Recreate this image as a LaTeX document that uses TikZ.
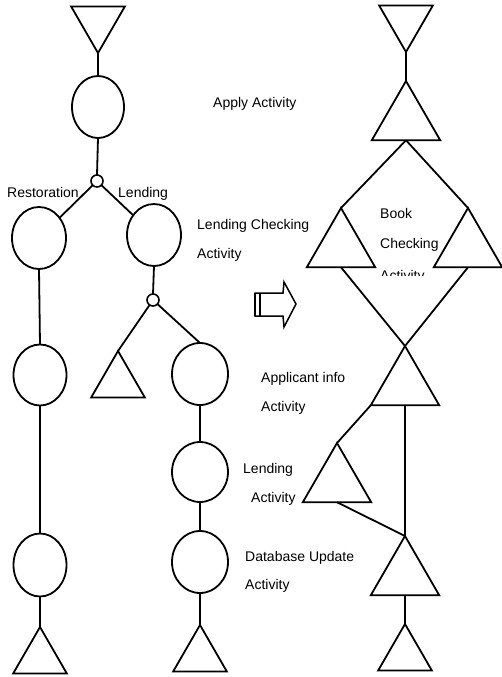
\documentclass[tikz,border=0pt]{standalone}
\usepackage{fontspec}
\setmainfont{Liberation Sans}
\usetikzlibrary{shapes.geometric}

\tikzset{
  link/.style={line width=1.8pt},
  oval/.style={draw, ellipse, line width=1.8pt, inner sep=0pt, outer sep=0pt,
               minimum width=54pt, minimum height=62pt},
  joint/.style={draw, circle, line width=1.6pt, inner sep=0pt, outer sep=0pt,
                minimum size=12pt},
  bigtri/.style={draw, regular polygon, regular polygon sides=3, line width=1.8pt,
                 inner sep=0pt, outer sep=0pt, minimum size=79pt},
  smalltri/.style={draw, regular polygon, regular polygon sides=3, line width=1.8pt,
                   inner sep=0pt, outer sep=0pt, minimum size=62pt},
  flipped/.style={shape border rotate=180},
  lbl/.style={anchor=base west, inner sep=0pt, font=\fontsize{14}{16}\selectfont}
}

\begin{document}
\begin{tikzpicture}[x=1pt, y=-1pt]
\useasboundingbox (0,0) rectangle (502,677);

% ---------- left: activity tree with decision joints ----------
\node[smalltri, flipped] (ltop) at (98,22) {};
\node[oval, minimum width=52pt] (c1) at (98,107) {};
\node[joint] (j1) at (97,181) {};
\node[oval] (c2) at (39,238) {};
\node[oval] (c3) at (154,235) {};
\node[joint] (j2) at (153,300) {};
\node[smalltri] (tmid) at (118,382) {};
\node[oval, minimum width=53pt, minimum height=61pt] (c4) at (40,375) {};
\node[oval, minimum width=53pt, minimum height=63pt] (c5) at (40,565) {};
\node[smalltri] (lbot) at (40,658) {};
\node[oval, minimum width=56pt] (c6) at (200,374) {};
\node[oval, minimum width=56pt, minimum height=60pt] (c7) at (200,472) {};
\node[oval, minimum width=56pt] (c8) at (200,562) {};
\node[smalltri] (rbot) at (200,656) {};

\draw[link] (ltop.corner 1) -- (c1.north);
\draw[link] (c1.south) -- (j1.north);
\draw[link] (j1) -- (c2);
\draw[link] (j1) -- (c3);
\draw[link] (c2.south) -- (c4.north);
\draw[link] (c4.south) -- (c5.north);
\draw[link] (c5.south) -- (lbot.corner 1);
\draw[link] (c3.south) -- (j2.north);
\draw[link] (j2) -- (tmid.corner 1);
\draw[link] (j2) -- (c6.north);
\draw[link] (c6.south) -- (c7.north);
\draw[link] (c7.south) -- (c8.north);
\draw[link] (c8.south) -- (rbot.corner 1);

\node[lbl] (restoration) at (7,197) {Restoration};
\node[lbl] (lendingbranch) at (118,197) {Lending};

% ---------- transformation arrow ----------
\draw[line width=1.5pt, line join=miter] (255,293) -- (283,293) -- (284,282) -- (296,304)
  -- (284,327) -- (283,316) -- (255,316) -- cycle;
\draw[line width=2.4pt] (255,293) -- (255,316);
\draw[line width=1.3pt] (260,293) -- (260,316);

% ---------- right: triangle activity net ----------
\node[smalltri, flipped] (rtop) at (406,21) {};
\node[bigtri] (apply) at (406,120.5) {};
\node[bigtri] (lendchk) at (341,247.5) {};
\node[bigtri] (bookchk) at (468,247.5) {};
\node[bigtri] (appinfo) at (405,385.5) {};
\node[bigtri] (lending) at (337,482.5) {};
\node[bigtri] (dbupd) at (405,575.5) {};
\node[smalltri] (rend) at (405,655) {};

\draw[link] (rtop.corner 1) -- (apply.corner 1);
\draw[link] (apply.side 2) -- (lendchk.corner 1);
\draw[link] (apply.side 2) -- (bookchk.corner 1);
\draw[link] (lendchk.side 2) -- (appinfo.corner 1);
\draw[link] (bookchk.side 2) -- (appinfo.corner 1);
\draw[link] (appinfo.corner 2) -- (lending.corner 1);
\draw[link] (appinfo.side 2) -- (dbupd.corner 1);
\draw[link] (lending.side 2) -- (dbupd.corner 1);
\draw[link] (dbupd.side 2) -- (rend.corner 1);

% ---------- activity labels ----------
\node[lbl] (applylbl) at (213,107) {Apply Activity};
\node[lbl] (lclbl1) at (197,229) {Lending Checking};
\node[lbl] (lclbl2) at (197,258) {Activity};
\node[lbl] (bclbl1) at (380,218) {Book};
\node[lbl] (bclbl2) at (380,248) {Checking};
\begin{scope}
  \clip (370,262) rectangle (440,275);
  \node[lbl] (bclbl3) at (380,280) {Activity};
\end{scope}
\node[lbl] (ailbl1) at (261,382) {Applicant info};
\node[lbl] (ailbl2) at (261,411) {Activity};
\node[lbl] (lalbl1) at (243,473) {Lending};
\node[lbl] (lalbl2) at (251,502) {Activity};
\node[lbl] (dblbl1) at (245,561) {Database Update};
\node[lbl] (dblbl2) at (245,589) {Activity};
\end{tikzpicture}
\end{document}
